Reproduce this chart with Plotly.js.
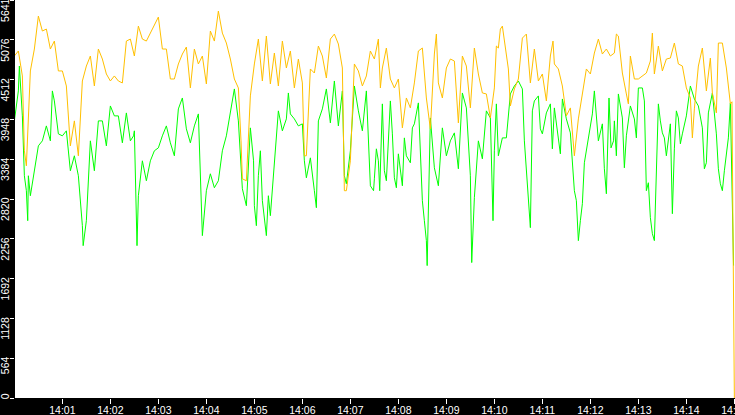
<!DOCTYPE html>
<html>
<head>
<meta charset="utf-8">
<script src="https://cdn.plot.ly/plotly-3.0.1.min.js"></script>
<style>
  html, body { margin: 0; padding: 0; background: #000; }
  #plot { width: 735px; height: 415px; }
</style>
</head>
<body>
<div id="plot"></div>
<script>
// seconds after 14:00:00
const orangeSec = [0,5,10,12.5,15,20,25,30,35,40,45,50,55,60,65,70,75,80,85,90,95,100,105,110,115,120,125,130,135,140,145,
  150,155,160,165,170,175,180,185,190,195,200,205,210,215,220,225,230,235,240,245,250,255,260,265,270,275,280,283.3,285,290,295,
  300,305,310,315,320,325,330,335,340,345,350,355,360,362.5,365,370,375,380,385,390,395,400,405,410,412.5,415,420,425,430,435,440,445,
  450,455,457.5,460,465,470,475,480,485,490,495,500,505,510,515,520,525,527.5,530,535,540,545,550,555,560,565,570,575,580,585,590,595,
  600,602.5,605,607.5,610,615,617.5,620,625,630,635,640,645,650,655,660,665,670,673.3,675,680,685,690,695,700,705,710,715,720,725,730,735,740,745,
  750,752.5,755,760,765,767.5,770,775,780,785,790,795,797.5,800,805,810,815,820,825,830,835,840,845,847.5,850,855,860,865,870,872.5,877.5,880,885,890,895,897,898.5,900];
const orangeVal = [4849,4920,4566,3505,3292,4637,4948,5415,5203,5231,4948,5061,4637,4637,4424,3575,3929,3434,4495,4707,4849,4424,4948,4806,4594,4495,4566,4495,4467,5061,5089,
  4849,5273,5089,5061,5174,5273,5401,4948,4948,4523,4523,4736,4877,4976,4396,4948,4736,4849,4453,5203,5061,5486,5174,5033,4806,4523,4396,3646,3108,3080,4283,
  4736,5089,4495,5132,4453,4891,4424,5061,4679,4920,4396,4806,4467,3434,3434,4665,4608,4990,4849,4537,5089,5160,5019,4679,2939,2939,3363,4736,4637,4424,4566,4920,
  4806,5089,4396,4679,4962,4523,4396,4523,3830,4254,4113,4467,4920,4962,4254,3816,4877,5160,4467,4254,4679,4806,4778,3901,4849,4707,4113,4962,4594,4325,4311,3971,
  4396,4990,4962,5231,5273,4820,4665,4141,4382,4523,5103,5160,4467,4948,4495,4594,4212,4849,5061,4736,4665,4424,4000,4113,3434,3957,4311,4665,4594,4891,5089,4877,4948,4849,
  4891,5160,5132,4608,4311,4170,4849,4523,4523,4566,4608,4778,5174,4594,4990,4637,4806,4820,5033,4736,4707,4396,4254,3688,4099,4707,4962,4354,4820,4325,4042,5033,5033,4679,4170,4200,2000,0];

const greenSec = [0,5,6.25,10,12.5,15,16.7,17.5,20,25,30,35,40,45,47.5,50,55,60,65,70,75,80,85,86,90,95,100,105,110,115,120,125,130,135,140,145,149,
  150,153.3,155,160,165,170,175,180,185,190,195,200,205,210,215,220,225,230,235,240,245,250,255,260,265,270,275,280,285,290,295,299,
  300,302.5,305,307.5,310,315,317.5,320,325,330,335,340,342.5,345,350,355,360,362.5,365,370,375,377.5,380,385,390,395,400,405,410,412.5,415,420,425,430,435,440,445,449,
  450,452.5,455,456.7,460,462.5,465,470,472.5,475,477.5,480,485,487.5,490,495,497.5,500,505,510,512.5,515,516,520,525,530,535,540,545,550,555,560,565,570,571.7,575,580,585,590,595,598.3,
  600,602.5,605,610,615,620,625,630,635,637.5,640,642.5,645,647.5,650,655,657.5,660,665,670,672.5,675,680,682.5,685,690,695,700,702.5,705,707.5,710,712.5,717.5,722.5,725,730,735,737.5,740,743.3,745.8,749,
  750,752.5,755,760,762.5,765,770,775,777.5,780,785,787.5,790,792.5,795,797.5,800,802.5,805,807.5,810,812.5,815,820,822.5,825,827.5,830,832.5,835,840,845,850,855,860,862.5,865,867.5,872.5,877.5,880,882.5,885,887.5,892.5,895,897.5,899];
const greenVal = [3929,4354,4707,4000,3151,2939,2514,3151,2868,3222,3575,3646,3858,3646,4354,4212,3745,3717,3788,3222,3434,3151,2443,2160,2514,3646,3222,3929,3929,3575,4141,4000,4000,3618,4042,3646,3717,
  3788,2160,2868,3363,3080,3363,3505,3547,3717,3858,3618,3434,4099,4254,3816,3618,3858,4028,2302,2939,3179,2981,3080,3505,3717,4071,4382,3929,2967,2726,3830,3363,
  2726,2443,3151,3505,2797,2302,2868,2585,3292,4071,3788,3957,4325,4028,3957,3858,3887,3363,3122,3405,2939,2698,3929,4099,4382,3901,4495,3858,4354,3151,3037,3505,4424,4071,3788,4354,3009,2939,
  3108,3533,3363,2939,4170,3222,3080,4212,3745,3122,2981,3462,3009,3688,3434,3335,3830,3887,4184,2797,2514,2231,1877,3971,3264,3009,3830,3434,3646,3759,3250,4325,4113,3151,1920,2840,3646,3391,4071,3971,2514,
  3505,4170,3434,3688,3688,4311,4424,4495,4382,3646,3222,2840,2415,4071,4212,4283,3816,3745,4042,4170,3533,4113,3674,3462,4240,3957,3759,2939,2797,2231,2514,2755,3335,3688,4028,4354,3646,3887,3250,2896,4254,3547,3646,
  3929,3434,4311,3971,3264,3717,4141,3957,3688,4396,4396,4212,2939,3052,2557,2330,2231,3363,4170,3929,3759,3688,3434,3887,2613,3533,4071,3971,3604,3745,4000,4424,4240,4141,3830,3250,3335,4042,4325,3745,3250,3037,2939,3222,3688,4184,2514,1877];

const yTicks = [0, 564, 1128, 1692, 2256, 2820, 3384, 3948, 4512, 5076, 5641];

const base = Date.UTC(2024, 0, 1, 14, 0, 0);
const toTime = s => base + s * 1000;

// labels hang below their tick: pad the (rotated) text so the digits end at the tick
const NBSP = "\u00a0";
const yLabel = v => v === 0 ? "0" : String(v) + NBSP.repeat(String(v).length * 2);

const green = {
    type: "scatter",
    mode: "lines",
    x: greenSec.map(toTime),
    y: greenVal,
    line: {color: "#00ff00", width: 1},
    hoverinfo: "skip"
};

const orange = {
    type: "scatter",
    mode: "lines",
    x: orangeSec.map(toTime),
    y: orangeVal,
    line: {color: "#ffc000", width: 1},
    hoverinfo: "skip"
};

const tickFont = {family: "Liberation Sans, Arial, sans-serif", size: 10.5, color: "#ffffff"};

Plotly.newPlot("plot", [green, orange], {
    width: 735,
    height: 415,
    margin: {l: 15, r: 0, t: 0, b: 17, pad: 0},
    paper_bgcolor: "#000000",
    plot_bgcolor: "#ffffff",
    showlegend: false,
    xaxis: {
        type: "date",
        range: [base + 800, base + 900800],
        tick0: base,
        dtick: 60000,
        tickformat: "%H:%M",
        ticks: "outside",
        ticklen: 5,
        tickcolor: "#ffffff",
        tickfont: tickFont,
        ticklabelstandoff: -3,
        ticklabeloverflow: "allow",
        showgrid: false,
        zeroline: false,
        showline: false
    },
    yaxis: {
        range: [0, 5643],
        tickvals: yTicks,
        ticktext: yTicks.map(yLabel),
        tickangle: -90,
        ticklabeloverflow: "allow",
        ticklabelstandoff: -3,
        ticks: "outside",
        ticklen: 4,
        tickcolor: "#ffffff",
        tickfont: tickFont,
        showgrid: false,
        zeroline: false,
        showline: false
    }
}, {staticPlot: true});
</script>
</body>
</html>
